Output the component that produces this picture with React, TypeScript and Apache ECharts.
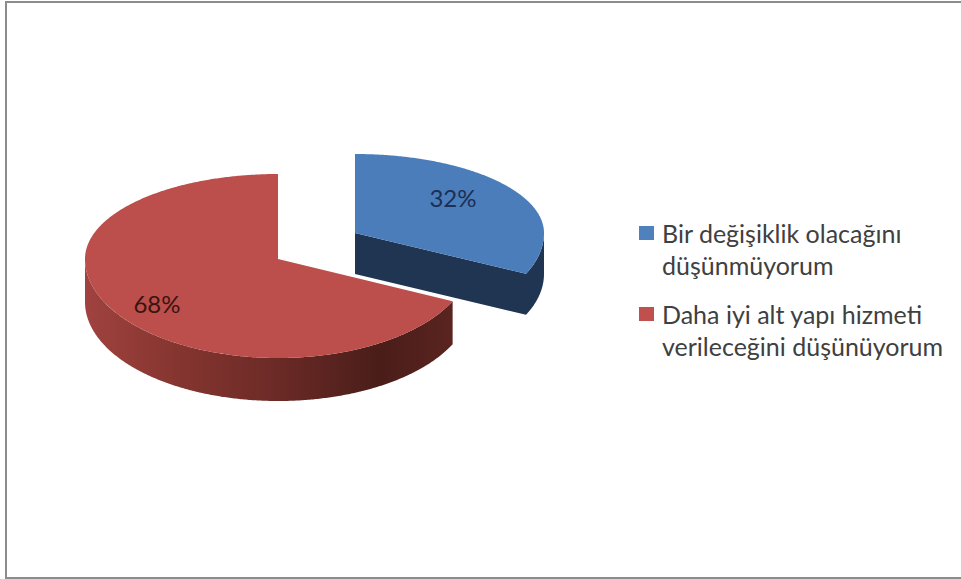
import React, { useEffect, useRef } from "react";
import * as echarts from "echarts";

const categories = ["Bir değişiklik olacağını düşünmüyorum", "Daha iyi alt yapı hizmeti verileceğini düşünüyorum"];
const wrappedLabels = ["Bir değişiklik olacağını\ndüşünmüyorum", "Daha iyi alt yapı hizmeti\nverileceğini düşünüyorum"];
const values = [32, 68];

const FONT = "Lato";
const total = values.reduce((a, b) => a + b, 0);
const legendIcon = "path://M0 0h.01v.01H0Z M0 9H15V23H0Z M0 64h.01v.01H0Z";

type Geo = { cx: number; cy: number; a: number; bTop: number; bBottom: number; depth: number; labelX: number; labelY: number; labelColor: string };
const geos: Geo[] = [
  { cx: 355, cy: 233, a: 189, bTop: 79, bBottom: 96, depth: 41, labelX: 453, labelY: 197, labelColor: "#1c2f55" },
  { cx: 278, cy: 259, a: 193, bTop: 85, bBottom: 99, depth: 43, labelX: 157, labelY: 303, labelColor: "#3a1412" },
];

function pt(g: Geo, deg: number, dy = 0): number[] {
  const r = (deg * Math.PI) / 180;
  const c = Math.cos(r);
  const b = c >= 0 ? g.bTop : g.bBottom;
  return [g.cx + g.a * Math.sin(r), g.cy - b * c + dy];
}

function arc(g: Geo, from: number, to: number, dy = 0): number[][] {
  const out: number[][] = [];
  const n = Math.max(2, Math.ceil(Math.abs(to - from) * 2));
  for (let i = 0; i <= n; i++) out.push(pt(g, from + ((to - from) * i) / n, dy));
  return out;
}

function sweep(i: number): [number, number] {
  let s = 0;
  for (let k = 0; k < i; k++) s += (values[k] / total) * 360;
  return [s, s + (values[i] / total) * 360];
}

function renderBlue(_: any, api: any) {
  const g = geos[0];
  const [s, e] = sweep(0);
  const v = api.value(0);
  const wall = [[g.cx, g.cy], ...arc(g, e, 90), ...arc(g, 90, e, g.depth), [g.cx, g.cy + g.depth]];
  const top = [[g.cx, g.cy], ...arc(g, s, e)];
  return {
    type: "group",
    children: [
      { type: "polygon", shape: { points: wall }, style: { fill: "#1f3552" } },
      { type: "polygon", shape: { points: top }, style: { fill: "#4a7dba" } },
      { type: "text", style: { text: `${v}%`, x: g.labelX, y: g.labelY, align: "center", verticalAlign: "middle", fontFamily: FONT, fontSize: 24, fill: g.labelColor } },
    ],
  };
}

function renderRed(_: any, api: any) {
  const g = geos[1];
  const [s, e] = sweep(1);
  const v = api.value(0);
  const wall = [...arc(g, s, 270), ...arc(g, 270, s, g.depth)];
  const top = [[g.cx, g.cy], ...arc(g, s, e)];
  const shade = new echarts.graphic.LinearGradient(0, 0, 1, 0, [
    { offset: 0, color: "#a04240" },
    { offset: 0.25, color: "#85352f" },
    { offset: 0.5, color: "#6e2b27" },
    { offset: 0.8, color: "#4a1d19" },
    { offset: 1, color: "#5a2420" },
  ]);
  return {
    type: "group",
    children: [
      { type: "polygon", shape: { points: wall }, style: { fill: shade } },
      { type: "polygon", shape: { points: top }, style: { fill: "#bc4e4b" } },
      { type: "text", style: { text: `${v}%`, x: g.labelX, y: g.labelY, align: "center", verticalAlign: "middle", fontFamily: FONT, fontSize: 24, fill: g.labelColor } },
    ],
  };
}

export default function App() {
  const ref = useRef<HTMLDivElement>(null);
  useEffect(() => {
    const chart = echarts.init(ref.current!, undefined, { renderer: "svg" });
    chart.setOption({
      animation: false,
      backgroundColor: "#ffffff",
      graphic: [
        {
          type: "polyline",
          silent: true,
          z: -1,
          shape: { points: [[961, 2], [6, 2], [6, 578], [961, 578]] },
          style: { fill: "none", stroke: "#8c8c8c", lineWidth: 2 },
        },
      ],
      legend: {
        orient: "vertical",
        left: 634,
        top: 212,
        itemWidth: 15,
        itemHeight: 64,
        itemGap: 17,
        symbolKeepAspect: false,
        selectedMode: false,
        icon: legendIcon,
        data: categories,
        formatter: (name: string) => wrappedLabels[categories.indexOf(name)],
        textStyle: { fontFamily: FONT, fontSize: 25, lineHeight: 32, color: "#404040", padding: [0, 0, 0, 3] },
      },
      series: [
        { type: "custom", name: categories[1], coordinateSystem: "none", renderItem: renderRed, data: [[values[1]]], itemStyle: { color: "#c0504d" }, silent: true },
        { type: "custom", name: categories[0], coordinateSystem: "none", renderItem: renderBlue, data: [[values[0]]], itemStyle: { color: "#4f81bd" }, silent: true },
      ],
    });
    return () => chart.dispose();
  }, []);
  return <div ref={ref} style={{ position: "fixed", left: 0, top: 0, width: 961, height: 579 }} />;
}
